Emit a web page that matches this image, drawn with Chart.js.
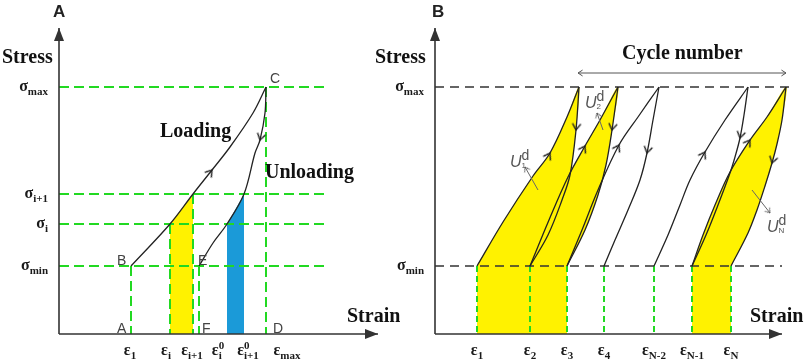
<!DOCTYPE html>
<html lang="en">
<head>
<meta charset="UTF-8">
<title>Loading / unloading cycles</title>
<script src="https://cdn.jsdelivr.net/npm/chart.js@4.4.0/dist/chart.umd.min.js"></script>
<style>
  html, body { margin: 0; padding: 0; background: #fff; }
  .wrap { position: relative; width: 809px; height: 361px; overflow: hidden; }
  canvas { position: absolute; top: 0; }
  #panelA { left: 0; }
  #panelB { left: 360px; }
</style>
</head>
<body>
<div class="wrap">
  <canvas id="panelA" width="400" height="361"></canvas>
  <canvas id="panelB" width="449" height="361"></canvas>
</div>
<script>
// ---- panel A: a single loading / unloading cycle (strain, stress in arbitrary units) ----
const sigA = [24.7, 14.0, 11.0, 6.8];
const sigLabelsA = ['σ_{max}', 'σ_{i+1}', 'σ_{i}', 'σ_{min}'];
const epsTickA = [7.1, 10.7, 13.3, 15.9, 18.9, 22.8];
const epsLabelsA = ['ε_{1}', 'ε_{i}', 'ε_{i+1}', 'ε^{0}_{i}', 'ε^{0}_{i+1}', 'ε_{max}'];
const guidesA = [[7.2, 6.8], [11.1, 11.0], [13.4, 14.0], [14.0, 6.8], [20.7, 24.7]];
const loadA = [[7.2, 6.8], [11.1, 11.0], [13.4, 14.0], [15.3, 16.4], [17.1, 18.7], [19.4, 22.1], [20.7, 24.7]];
const unloadA = [[20.7, 24.7], [20.6, 22.1], [20.1, 19.4], [19.6, 18.1], [18.5, 14.0], [16.8, 11.0], [15.4, 9.1], [14.0, 6.8]];
const yellowA = [[11.1, 0], [11.1, 11.0], [13.4, 14.0], [13.4, 0]];
const blueA = [[16.8, 0], [16.8, 11.0], [18.5, 14.0], [18.5, 0]];

// ---- panel B: repeated cycles ----
const sigB = [24.7, 6.8];
const sigLabelsB = ['σ_{max}', 'σ_{min}'];
const epsB = [4.2, 9.5, 13.2, 16.9, 21.9, 25.7, 29.6];
const epsLabelsB = ['ε_{1}', 'ε_{2}', 'ε_{3}', 'ε_{4}', 'ε_{N-2}', 'ε_{N-1}', 'ε_{N}'];
const load1B = [[4.2, 6.8], [6.8, 11.2], [9.8, 15.8], [11.5, 18.1], [13.2, 21.7], [14.4, 24.7]];
const unload1B = [[14.4, 24.7], [14.1, 20.4], [13.5, 15.9], [12.7, 13.4], [11.3, 9.9], [9.5, 6.8]];
const load2B = [[9.5, 6.8], [11.4, 11.4], [13.3, 15.7], [15.0, 18.8], [16.5, 21.4], [18.3, 24.7]];
const unload2B = [[18.3, 24.7], [17.7, 20.4], [17.1, 16.9], [16.3, 13.9], [15.0, 10.4], [13.2, 6.8]];
const load3B = [[13.2, 6.8], [14.7, 10.4], [16.3, 14.4], [18.4, 18.9], [20.3, 21.7], [22.4, 24.7]];
const unload3B = [[22.4, 24.7], [21.8, 21.4], [21.2, 18.1], [20.5, 15.4], [19.3, 12.4], [18.0, 9.4], [16.9, 6.8]];
const loadN1B = [[21.9, 6.8], [23.3, 9.9], [24.5, 12.9], [25.5, 15.4], [27.0, 18.2], [29.0, 21.4], [31.3, 24.7]];
const unloadN1B = [[31.3, 24.7], [30.9, 21.9], [30.5, 19.6], [30.0, 17.7], [29.5, 16.1], [28.3, 12.9], [27.1, 9.9], [25.7, 6.8]];
const loadNB = [[25.7, 6.8], [26.8, 9.9], [28.0, 12.9], [29.5, 16.2], [31.5, 19.4], [33.2, 21.7], [35.1, 24.7]];
const unloadNB = [[35.1, 24.7], [34.7, 21.4], [34.2, 19.0], [33.7, 17.1], [33.0, 14.8], [32.2, 12.4], [31.3, 10.1], [29.6, 6.8]];
const cycleSpanB = [[14.3, 26.1], [35.1, 26.1]];
const ptr1B = [[10.3, 14.4], [9.0, 16.7]];
const ptr2B = [[16.8, 20.4], [16.2, 22.1]];
const ptrNB = [[31.7, 14.4], [33.5, 12.1]];

const GREEN = '#22d922';
const YELLOW = '#fff200';
const BLUE = '#1b9ad8';
const INK = '#222';
const BEND = 0.35;

const styles = {
  tick: {
    color: '#1a1a1a',
    base: { font: 'bold 16px "Liberation Serif", "DejaVu Serif", serif', dy: 0 },
    sub: { font: 'bold 11px "Liberation Serif", "DejaVu Serif", serif', dy: 4 },
    sup: { font: 'bold 11px "Liberation Serif", "DejaVu Serif", serif', dy: -6 }
  },
  big: { color: '#111', base: { font: 'bold 20px "Liberation Serif", serif', dy: 0 } },
  panel: { color: '#222', base: { font: 'bold 17px "Liberation Sans", Arial, sans-serif', dy: 0 } },
  pt: { color: '#444', base: { font: '14px "Liberation Sans", Arial, sans-serif', dy: 0 } },
  U: {
    color: '#555',
    base: { font: 'italic 16px "Liberation Sans", sans-serif', dy: 0 },
    sup: { font: '14px "Liberation Sans", sans-serif', dy: -7 },
    sub: { font: '8px "Liberation Sans", sans-serif', dy: 1 }
  }
};

// "σ_{max}", "ε^{0}_{i}" -> parts
function parseRich(s) {
  const parts = [];
  let i = 0;
  const isMark = k => (s[k] === '_' || s[k] === '^') && s[k + 1] === '{';
  while (i < s.length) {
    if (isMark(i)) {
      const j = s.indexOf('}', i);
      parts.push({ t: s.slice(i + 2, j), k: s[i] === '_' ? 'sub' : 'sup' });
      i = j + 1;
    } else {
      let j = i;
      while (j < s.length && !isMark(j)) j++;
      parts.push({ t: s.slice(i, j), k: 'base' });
      i = j;
    }
  }
  return parts;
}

function drawRich(ctx, str, x, y, st, align) {
  const parts = parseRich(str);
  const pos = [];
  let w = 0;
  parts.forEach((p, i) => {
    ctx.font = (st[p.k] || st.base).font;
    const pw = ctx.measureText(p.t).width;
    const prev = parts[i - 1];
    if (prev && p.k !== 'base' && prev.k !== 'base' && prev.k !== p.k && !prev.stacked) {
      p.stacked = true;
      pos.push(pos[i - 1]);
      w = Math.max(w, pos[i - 1] + pw);
    } else {
      pos.push(w);
      w += pw;
    }
  });
  const x0 = align === 'center' ? x - w / 2 : align === 'right' ? x - w : x;
  ctx.fillStyle = st.color;
  parts.forEach((p, i) => {
    const f = st[p.k] || st.base;
    ctx.font = f.font;
    ctx.fillText(p.t, x0 + pos[i], y + f.dy);
  });
}

const textPlugin = {
  id: 'texts',
  afterDraw(chart, args, o) {
    const { ctx, chartArea: a, scales: { x, y } } = chart;
    ctx.save();
    ctx.textBaseline = 'alphabetic';
    o.xTicks.forEach((v, i) => drawRich(ctx, o.xLabels[i], x.getPixelForValue(v), a.bottom + 21, styles.tick, 'center'));
    o.yTicks.forEach((v, i) => drawRich(ctx, o.yLabels[i], a.left - 11, y.getPixelForValue(v) + 4, styles.tick, 'right'));
    o.notes.forEach(n => drawRich(ctx, n.t, x.getPixelForValue(n.x), y.getPixelForValue(n.y), styles[n.s], 'left'));
    ctx.restore();
  }
};

// arrow head images, tip at the image centre
function chevron(color, arm, lw) {
  const s = Math.ceil(arm * 2 + 4);
  const cv = document.createElement('canvas');
  cv.width = cv.height = s;
  const g = cv.getContext('2d');
  const c = s / 2;
  g.strokeStyle = color;
  g.lineWidth = lw;
  g.lineCap = 'round';
  g.beginPath();
  g.moveTo(c - arm * 0.55, c + arm * 0.85);
  g.lineTo(c, c);
  g.lineTo(c + arm * 0.55, c + arm * 0.85);
  g.stroke();
  return cv;
}
function spike(color) {
  const cv = document.createElement('canvas');
  cv.width = cv.height = 26;
  const g = cv.getContext('2d');
  g.fillStyle = color;
  g.beginPath();
  g.moveTo(13, 13);
  g.lineTo(8, 26);
  g.lineTo(18, 26);
  g.closePath();
  g.fill();
  return cv;
}
const curveHead = chevron(INK, 7, 1.4);
const thinHead = chevron('#555', 5, 1);
const axisHead = spike('#333');

function headAngle(chart, h) {
  if (!h) return 0;
  const sx = chart.scales.x, sy = chart.scales.y;
  const n = h.c.length;
  const p = h.c[Math.max(h.at - 1, 0)], q = h.c[Math.min(h.at + 1, n - 1)];
  let dx = sx.getPixelForValue(q[0]) - sx.getPixelForValue(p[0]);
  let dy = sy.getPixelForValue(q[1]) - sy.getPixelForValue(p[1]);
  if (h.back) { dx = -dx; dy = -dy; }
  return Math.atan2(dx, -dy) * 180 / Math.PI;
}

const P = a => a.map(([x, y]) => ({ x, y }));
function stroke(a, color, width, dash, order, tension) {
  return { data: P(a), borderColor: color, borderWidth: width, borderDash: dash || [],
           tension: tension || 0, pointRadius: 0, fill: false, clip: false, order: order };
}
function patch(a, color, tension) {
  return { data: P(a), backgroundColor: color, borderColor: 'transparent', borderWidth: 0,
           tension: tension || 0, pointRadius: 0, fill: 'shape', clip: false, order: 9 };
}
function heads(list, img) {
  return { data: list.map(h => ({ x: h.c[h.at][0], y: h.c[h.at][1] })), showLine: false,
           pointStyle: img, pointRadius: 5, borderWidth: 0, clip: false, order: 0,
           pointRotation: ctx => headAngle(ctx.chart, list[ctx.dataIndex]) };
}
const loop = (up, down) => up.concat(down.slice(1));

function makePanel(id, xMax, pad, datasets, texts) {
  return new Chart(document.getElementById(id), {
    type: 'line',
    data: { datasets },
    options: {
      responsive: false,
      animation: false,
      events: [],
      layout: { padding: pad },
      scales: {
        x: { type: 'linear', min: 0, max: xMax, display: false },
        y: { type: 'linear', min: 0, max: 30.6, display: false }
      },
      plugins: { legend: { display: false }, tooltip: { enabled: false }, texts }
    },
    plugins: [textPlugin]
  });
}

// ---- panel A ----
const axisXA = [[0, 0], [31.9, 0]];
const axisYA = [[0, 0], [0, 30.6]];
makePanel('panelA', 32.0, { left: 59, right: 21, top: 28, bottom: 27 }, [
  heads([{ c: loadA, at: 3 }, { c: unloadA, at: 2 }], curveHead),
  heads([{ c: axisXA, at: 1 }, { c: axisYA, at: 1 }], axisHead),
  stroke(axisXA, '#333', 1.6, null, 1),
  stroke(axisYA, '#333', 1.6, null, 1),
  stroke(loadA, INK, 1.3, null, 2, BEND),
  stroke(unloadA, INK, 1.3, null, 2, BEND),
  ...sigA.map(s => stroke([[0, s], [26.8, s]], GREEN, 2, [10, 5], 5)),
  ...guidesA.map(([e, s]) => stroke([[e, s], [e, 0]], GREEN, 2, [10, 5], 5)),
  patch(yellowA, YELLOW),
  patch(blueA, BLUE)
], {
  xTicks: epsTickA, xLabels: epsLabelsA,
  yTicks: sigA, yLabels: sigLabelsA,
  notes: [
    { t: 'A', x: -0.6, y: 31.7, s: 'panel' },
    { t: 'Stress', x: -5.7, y: 27.1, s: 'big' },
    { t: 'Strain', x: 28.8, y: 1.2, s: 'big' },
    { t: 'Loading', x: 10.1, y: 19.7, s: 'big' },
    { t: 'Unloading', x: 20.6, y: 15.6, s: 'big' },
    { t: 'C', x: 21.1, y: 25.1, s: 'pt' },
    { t: 'B', x: 5.8, y: 6.9, s: 'pt' },
    { t: 'E', x: 13.9, y: 6.9, s: 'pt' },
    { t: 'A', x: 5.8, y: 0.1, s: 'pt' },
    { t: 'F', x: 14.3, y: 0.1, s: 'pt' },
    { t: 'D', x: 21.4, y: 0.1, s: 'pt' }
  ]
});

// ---- panel B ----
const axisXB = [[0, 0], [34.7, 0]];
const axisYB = [[0, 0], [0, 30.6]];
makePanel('panelB', 35.5, { left: 75, right: 19, top: 28, bottom: 27 }, [
  heads([
    { c: load1B, at: 3 }, { c: unload1B, at: 1 }, { c: load2B, at: 3 }, { c: unload2B, at: 1 },
    { c: load3B, at: 3 }, { c: unload3B, at: 2 }, { c: loadN1B, at: 4 }, { c: unloadN1B, at: 2 },
    { c: loadNB, at: 4 }, { c: unloadNB, at: 3 }
  ], curveHead),
  heads([{ c: cycleSpanB, at: 1 }, { c: cycleSpanB, at: 0, back: true },
         { c: ptr1B, at: 1 }, { c: ptr2B, at: 1 }, { c: ptrNB, at: 1 }], thinHead),
  heads([{ c: axisXB, at: 1 }, { c: axisYB, at: 1 }], axisHead),
  stroke(axisXB, '#333', 1.6, null, 1),
  stroke(axisYB, '#333', 1.6, null, 1),
  stroke(cycleSpanB, '#555', 1, null, 1),
  stroke(ptr1B, '#666', 1, null, 1),
  stroke(ptr2B, '#666', 1, null, 1),
  stroke(ptrNB, '#666', 1, null, 1),
  ...[load1B, unload1B, load2B, unload2B, load3B, unload3B, loadN1B, unloadN1B, loadNB, unloadNB]
    .map(c => stroke(c, INK, 1.3, null, 2, BEND)),
  ...sigB.map((s, i) => stroke([[0, s], [i === 0 ? 35.5 : 34.7, s]], '#333', 1.5, [9, 6], 4)),
  ...epsB.map(e => stroke([[e, 6.8], [e, 0]], GREEN, 2, [6, 4], 5)),
  patch(loop(load1B, unload1B), YELLOW, BEND),
  patch(loop(load2B, unload2B), YELLOW, BEND),
  patch(loop(loadNB, unloadNB), YELLOW, BEND),
  patch([[4.2, 0], [4.2, 6.8], [13.2, 6.8], [13.2, 0]], YELLOW),
  patch([[25.7, 0], [25.7, 6.8], [29.6, 6.8], [29.6, 0]], YELLOW)
], {
  xTicks: epsB, xLabels: epsLabelsB,
  yTicks: sigB, yLabels: sigLabelsB,
  notes: [
    { t: 'B', x: -0.3, y: 31.7, s: 'panel' },
    { t: 'Stress', x: -6.0, y: 27.1, s: 'big' },
    { t: 'Strain', x: 31.5, y: 1.2, s: 'big' },
    { t: 'Cycle number', x: 18.7, y: 27.5, s: 'big' },
    { t: 'U^{d}_{1}', x: 7.5, y: 16.7, s: 'U' },
    { t: 'U^{d}_{2}', x: 15.0, y: 22.6, s: 'U' },
    { t: 'U^{d}_{N}', x: 33.2, y: 10.2, s: 'U' }
  ]
});
</script>
</body>
</html>
